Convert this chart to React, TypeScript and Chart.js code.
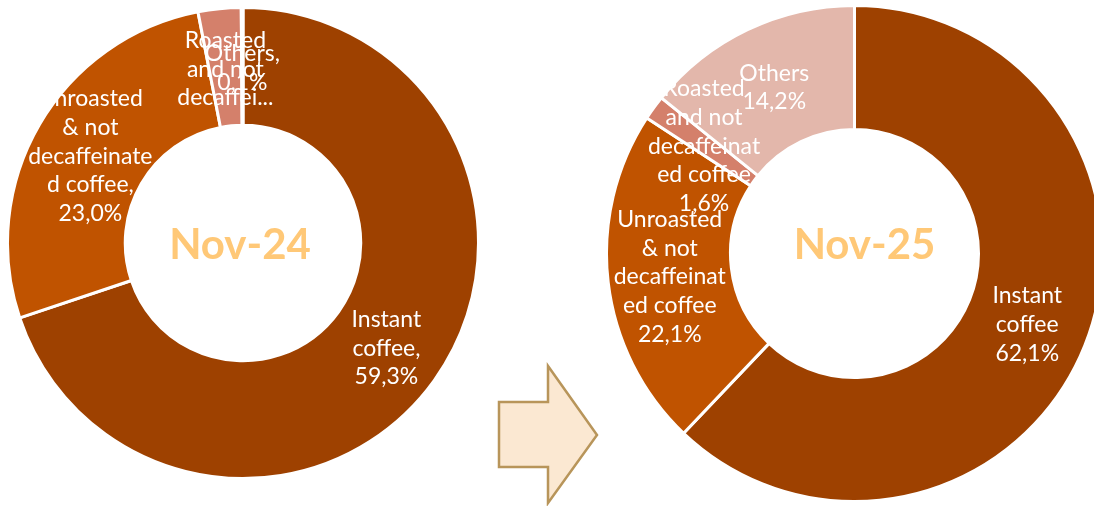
import React, { useEffect, useRef } from "react";
import { Chart, registerables } from "chart.js";

Chart.register(...registerables);

const categories = [
  "Instant coffee",
  "Unroasted & not decaffeinated coffee",
  "Roasted and not decaffeinated coffee",
  "Others",
];
const nov24Values = [59.3, 23.0, 2.5, 0.1];
const nov25Values = [62.1, 22.1, 1.6, 14.2];
const sliceColors = ["#9E4100", "#C05300", "#D4806B", "#E3B7AB"];

// wrapped category names as shown in each chart's data labels
const nov24NameLines = [
  ["Instant", "coffee,"],
  ["Unroasted", "& not", "decaffeinate", "d coffee,"],
  ["Roasted", "and not", "decaffei..."],
  ["Others,"],
];
const nov25NameLines = [
  ["Instant", "coffee"],
  ["Unroasted", "& not", "decaffeinat", "ed coffee"],
  ["Roasted", "and not", "decaffeinat", "ed coffee"],
  ["Others"],
];
const nov24ShowValue = [true, true, false, true];
const nov25ShowValue = [true, true, true, true];

const fmt = (v: number) => v.toFixed(1).replace(".", ",") + "%";

const labelPlugin = {
  id: "ringLabels",
  afterDatasetsDraw(chart: any, _args: any, opts: any) {
    const meta = chart.getDatasetMeta(0);
    const ctx = chart.ctx;
    ctx.save();
    ctx.font = "23px Lato";
    ctx.fillStyle = "#FFFFFF";
    ctx.textAlign = "center";
    ctx.textBaseline = "middle";
    const lh = 28.6;
    meta.data.forEach((arc: any, i: number) => {
      const p = arc.getProps(["x", "y", "startAngle", "endAngle", "innerRadius", "outerRadius"], true);
      const mid = (p.startAngle + p.endAngle) / 2;
      const r = (p.innerRadius + p.outerRadius) / 2;
      const cx = p.x + Math.cos(mid) * r;
      const cy = p.y + Math.sin(mid) * r + 2;
      const lines: string[] = [...opts.lines[i]];
      if (opts.showValue[i]) lines.push(fmt(chart.data.datasets[0].data[i]));
      const top = cy - ((lines.length - 1) * lh) / 2;
      lines.forEach((t, k) => ctx.fillText(t, cx, top + k * lh));
    });
    const a0 = meta.data[0];
    ctx.font = "bold 42px Lato";
    ctx.fillStyle = "#FFC877";
    ctx.fillText(opts.title, a0.x + opts.dx, a0.y + opts.dy);
    ctx.restore();
  },
};

function Donut(props: {
  values: number[];
  nameLines: string[][];
  showValue: boolean[];
  title: string;
  dx: number;
  dy: number;
  size: number;
  left: number;
  top: number;
}) {
  const ref = useRef<HTMLCanvasElement | null>(null);
  useEffect(() => {
    if (!ref.current) return;
    const chart = new Chart(ref.current, {
      type: "doughnut",
      data: {
        labels: categories,
        datasets: [
          {
            data: props.values,
            backgroundColor: sliceColors,
            borderColor: "#FFFFFF",
            borderWidth: 3,
          },
        ],
      },
      options: {
        responsive: false,
        animation: false,
        cutout: "50%",
        layout: { padding: 0 },
        plugins: {
          legend: { display: false },
          tooltip: { enabled: false },
          ringLabels: {
            lines: props.nameLines,
            showValue: props.showValue,
            title: props.title,
            dx: props.dx,
            dy: props.dy,
          },
        } as any,
      },
      plugins: [labelPlugin],
    });
    return () => chart.destroy();
  }, []);
  return (
    <canvas
      ref={ref}
      width={props.size}
      height={props.size}
      style={{
        position: "absolute",
        left: props.left,
        top: props.top,
        width: props.size,
        height: props.size,
      }}
    />
  );
}

export default function App() {
  return (
    <div
      style={{
        position: "absolute",
        left: 0,
        top: 0,
        width: 1094,
        height: 506,
        overflow: "hidden",
        background: "#FFFFFF",
      }}
    >
      <Donut
        values={nov24Values}
        nameLines={nov24NameLines}
        showValue={nov24ShowValue}
        title="Nov-24"
        dx={-3}
        dy={2}
        size={474}
        left={6}
        top={6}
      />
      <svg
        width={1094}
        height={506}
        style={{ position: "absolute", left: 0, top: 0 }}
      >
        <polygon
          points="499,402 548,402 548,366 597,435 548,503 548,467 499,467"
          fill="#FBE8D2"
          stroke="#B8955A"
          strokeWidth={2.5}
        />
      </svg>
      <Donut
        values={nov25Values}
        nameLines={nov25NameLines}
        showValue={nov25ShowValue}
        title="Nov-25"
        dx={10}
        dy={-8}
        size={499}
        left={605}
        top={4}
      />
    </div>
  );
}
